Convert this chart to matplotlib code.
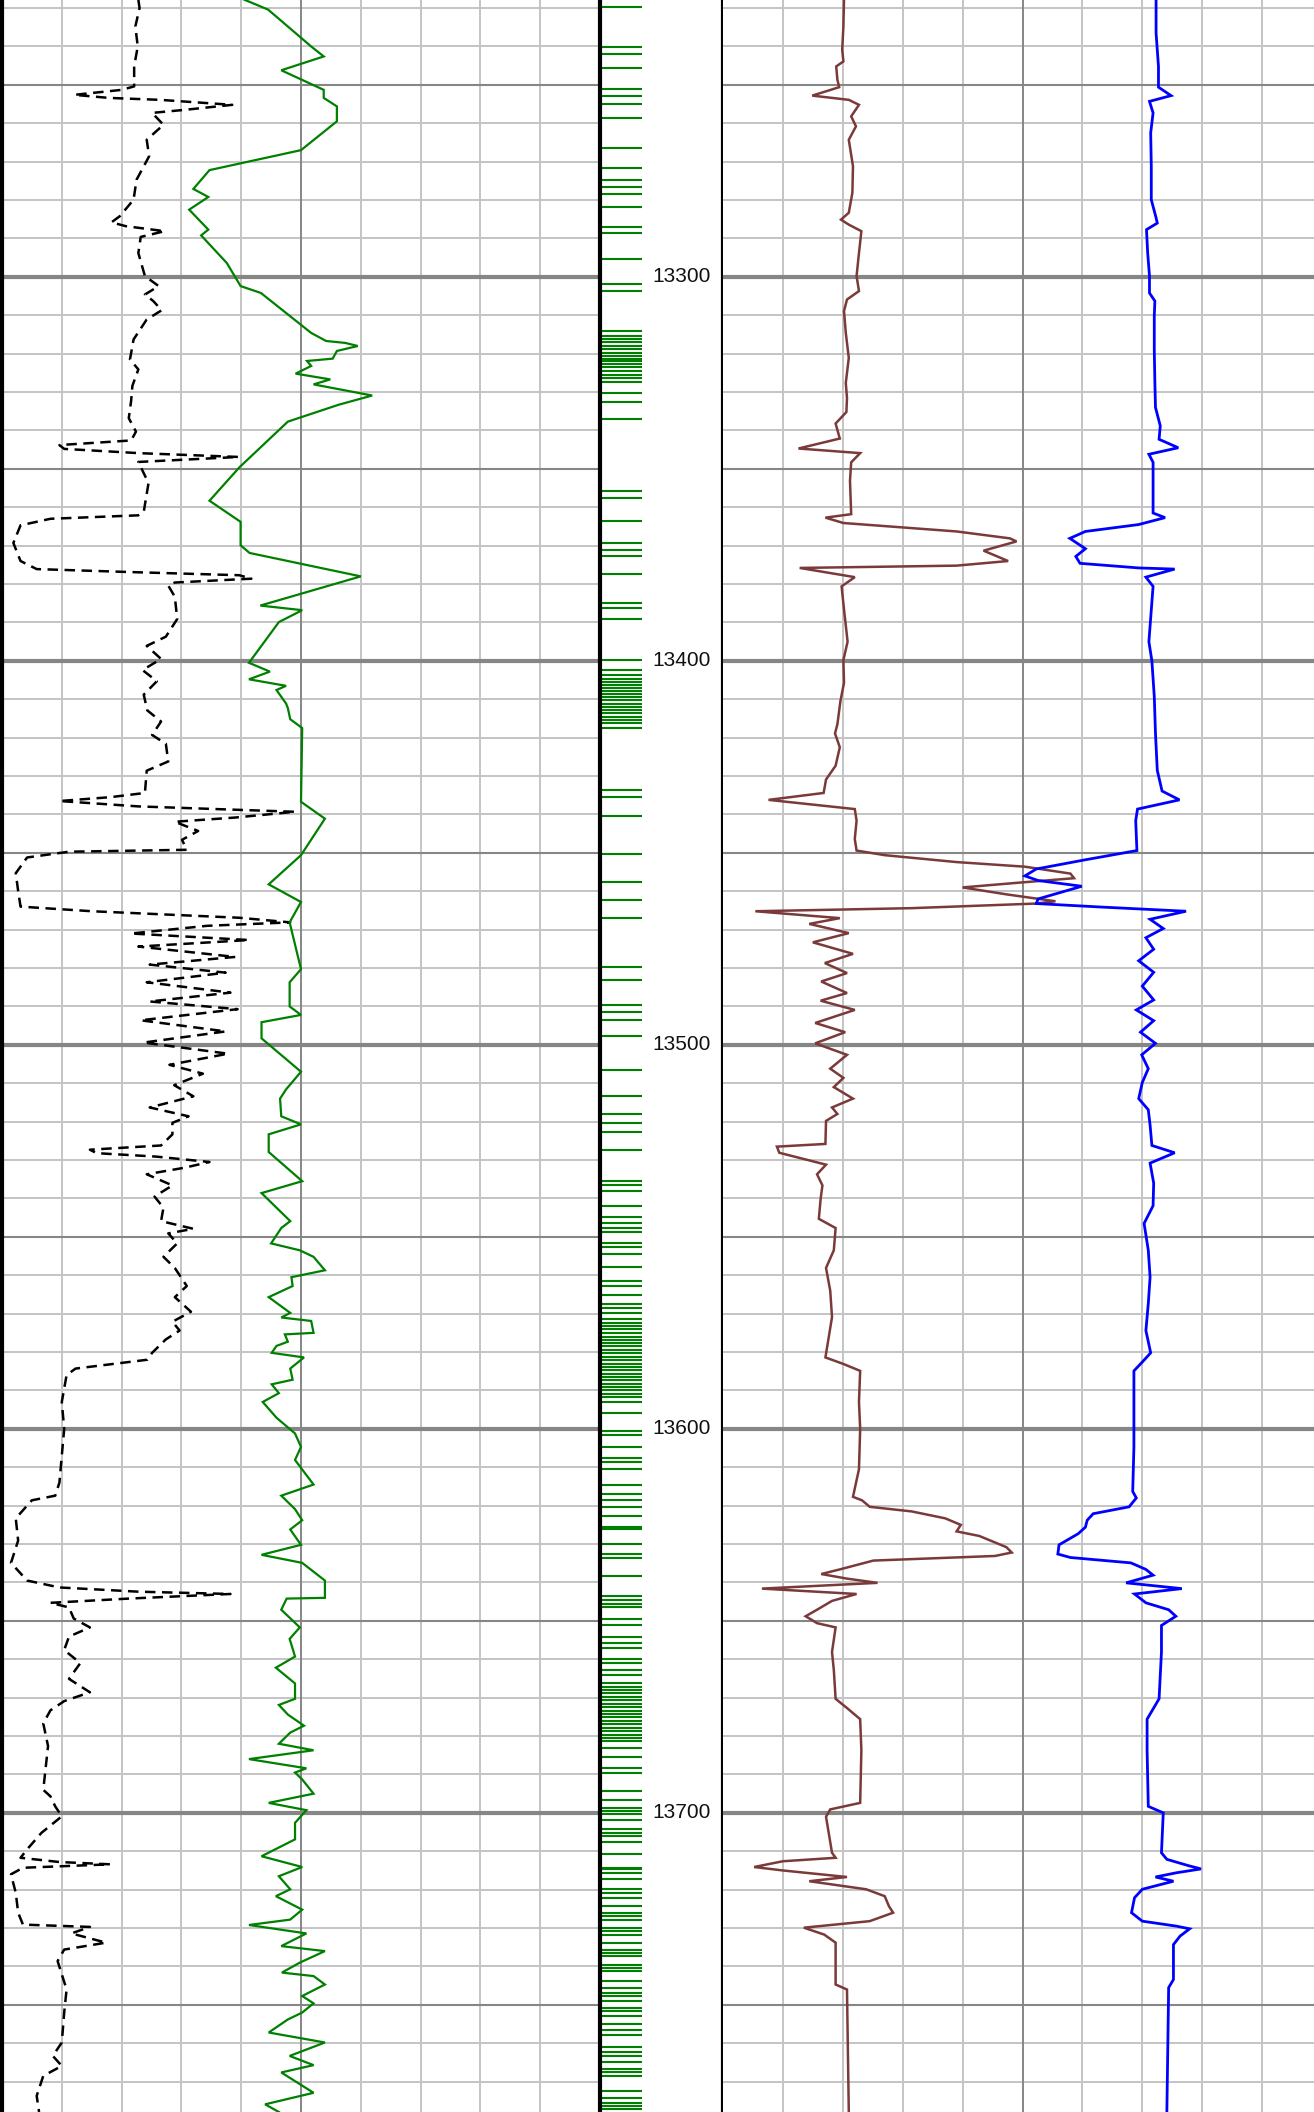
from __future__ import annotations

import matplotlib

matplotlib.use("Agg")
import matplotlib.pyplot as plt


FIG_W, FIG_H = 1314, 2112
TOP_DEPTH, BASE_DEPTH = 13227.9, 13777.9

PALETTE = {
    "grid": "#C4C4C4",
    "grid_dark": "#868686",
    "border": "#000000",
    "gr": "#008000",
    "sp": "#000000",
    "deep": "#7B3A3A",
    "shallow": "#0000FF",
    "ticks": "#008000",
    "text": "#111111",
}

# left track (0-100 track units): dashed black curve, depth / value
SP_LOG = [
    (13227.8, 22.8), (13230.0, 23.0), (13234.8, 22.3), (13240.0, 22.7), (13245.2, 22.1),
    (13250.4, 22.1), (13251.3, 20.0), (13252.6, 12.1), (13253.4, 17.9), (13253.9, 26.4),
    (13255.2, 38.5), (13256.5, 30.6), (13257.3, 25.1), (13260.4, 27.0), (13264.3, 24.2),
    (13268.6, 24.6), (13274.7, 22.5), (13279.9, 22.0), (13284.2, 19.7), (13285.8, 18.3),
    (13286.8, 20.7), (13288.1, 27.2), (13289.6, 23.2), (13293.8, 22.8), (13299.8, 23.9),
    (13302.4, 26.2), (13304.6, 23.9), (13306.3, 25.3), (13308.7, 26.7), (13311.1, 24.2),
    (13316.3, 22.0), (13321.5, 21.4), (13324.1, 22.8), (13328.4, 21.8), (13332.2, 21.6),
    (13336.8, 21.2), (13340.3, 22.4), (13342.6, 21.6), (13343.8, 9.6), (13344.8, 10.4),
    (13345.9, 22.8), (13346.9, 39.6), (13348.2, 22.8), (13353.7, 24.5), (13361.2, 23.7),
    (13362.1, 22.8), (13363.0, 8.1), (13364.7, 3.1), (13369.3, 1.9), (13374.0, 3.1),
    (13376.1, 5.8), (13376.9, 22.0), (13377.7, 39.7), (13378.6, 41.7), (13379.6, 28.9),
    (13380.4, 27.8), (13383.3, 28.9), (13389.1, 29.3), (13393.7, 27.4), (13396.1, 24.2),
    (13399.5, 26.6), (13402.4, 23.5), (13405.3, 25.9), (13408.8, 23.7), (13412.9, 24.3),
    (13415.8, 26.6), (13419.3, 25.1), (13421.6, 27.4), (13426.2, 27.8), (13428.6, 24.2),
    (13434.4, 23.9), (13435.5, 18.1), (13436.5, 9.6), (13437.9, 22.8), (13439.3, 49.0),
    (13440.8, 39.0), (13441.9, 28.9), (13444.3, 32.8), (13446.6, 30.1), (13449.2, 30.9),
    (13449.7, 11.2), (13451.2, 4.2), (13455.3, 2.3), (13459.9, 2.7), (13464.0, 3.1),
    (13465.2, 15.0), (13466.9, 39.7), (13468.1, 48.2), (13469.0, 34.3), (13471.0, 21.6),
    (13472.7, 41.3), (13474.4, 22.8), (13477.1, 39.0), (13479.1, 24.7), (13481.2, 37.4),
    (13483.7, 24.2), (13486.4, 38.2), (13488.7, 24.7), (13490.7, 39.4), (13493.6, 23.2),
    (13496.5, 37.4), (13499.4, 23.7), (13502.3, 37.8), (13505.2, 28.0), (13507.5, 33.6),
    (13510.5, 28.8), (13513.4, 32.0), (13516.3, 24.7), (13518.6, 31.2), (13520.3, 28.5),
    (13523.3, 28.5), (13526.2, 26.6), (13527.3, 14.7), (13528.2, 15.8), (13529.1, 25.8),
    (13530.5, 34.7), (13532.0, 30.5), (13533.7, 24.2), (13536.6, 28.5), (13539.5, 25.5),
    (13542.4, 27.0), (13545.9, 26.6), (13547.9, 32.0), (13549.1, 27.8), (13551.7, 29.3),
    (13555.2, 27.0), (13558.1, 28.9), (13562.8, 30.9), (13565.7, 28.9), (13569.5, 31.6),
    (13572.1, 28.5), (13574.4, 29.7), (13576.7, 27.4), (13580.2, 25.1), (13582.0, 24.3),
    (13584.3, 12.3), (13586.0, 10.8), (13593.0, 10.0), (13600.0, 10.4), (13607.0, 10.0),
    (13614.0, 9.6), (13617.4, 8.9), (13618.6, 5.0), (13623.3, 2.3), (13629.1, 2.7),
    (13634.9, 1.5), (13639.5, 4.2), (13641.3, 9.6), (13642.4, 22.8), (13643.0, 38.2),
    (13644.2, 21.2), (13645.3, 8.1), (13646.5, 11.2), (13649.4, 12.0), (13651.7, 14.7),
    (13654.1, 11.2), (13657.6, 10.4), (13661.0, 13.1), (13665.1, 11.2), (13668.6, 14.7),
    (13670.9, 10.4), (13673.3, 8.1), (13676.7, 6.9), (13682.6, 7.7), (13688.4, 7.3),
    (13694.0, 6.9), (13695.7, 8.1), (13698.3, 8.9), (13700.9, 10.0), (13705.2, 6.6),
    (13709.5, 4.2), (13711.7, 3.1), (13712.8, 9.6), (13713.4, 18.1), (13714.3, 3.5),
    (13716.0, 1.5), (13720.8, 2.3), (13726.0, 2.7), (13729.1, 3.5), (13729.7, 14.7),
    (13731.4, 11.6), (13733.8, 17.4), (13735.6, 10.4), (13738.6, 9.3), (13746.0, 10.8),
    (13752.0, 10.4), (13759.8, 10.0), (13763.3, 8.5), (13765.9, 10.0), (13768.5, 6.9),
    (13773.7, 5.8), (13777.9, 6.2),
]

# left track: green solid curve
GR_LOG = [
    (13227.8, 40.5), (13230.4, 44.5), (13240.0, 51.7), (13242.6, 53.8), (13246.2, 46.7),
    (13251.3, 53.8), (13253.4, 53.8), (13255.6, 56.0), (13259.5, 56.0), (13267.0, 50.0),
    (13272.2, 34.7), (13277.1, 32.0), (13279.2, 34.5), (13282.5, 31.3), (13287.7, 34.5),
    (13289.2, 33.3), (13296.4, 37.6), (13302.4, 39.9), (13304.2, 43.3), (13314.6, 51.7),
    (13316.7, 54.2), (13317.2, 57.4), (13318.0, 59.5), (13319.3, 56.0), (13321.3, 55.3),
    (13321.9, 51.0), (13323.2, 51.7), (13325.2, 49.1), (13326.7, 54.9), (13328.0, 52.1),
    (13330.9, 61.9), (13333.3, 56.3), (13337.7, 47.8), (13349.6, 39.7), (13358.3, 34.7),
    (13363.8, 39.9), (13369.9, 39.9), (13371.9, 41.4), (13378.0, 60.0), (13385.6, 43.2),
    (13386.8, 50.2), (13389.9, 46.3), (13400.5, 41.3), (13402.8, 44.8), (13404.8, 41.3),
    (13406.5, 47.5), (13407.6, 45.9), (13411.1, 47.5), (13412.3, 47.8), (13415.2, 48.2),
    (13417.5, 50.2), (13436.7, 50.0), (13441.1, 54.0), (13450.6, 50.0), (13458.2, 44.6),
    (13462.8, 50.0), (13468.1, 48.1), (13480.3, 50.0), (13483.7, 48.1), (13490.0, 48.1),
    (13492.2, 50.0), (13494.1, 43.4), (13498.3, 43.4), (13507.0, 50.0), (13511.6, 47.5),
    (13514.0, 46.5), (13518.6, 46.7), (13520.7, 50.0), (13523.3, 44.6), (13527.9, 44.6),
    (13535.5, 50.2), (13538.6, 43.4), (13545.9, 48.2), (13547.7, 46.7), (13551.7, 45.0),
    (13553.5, 49.8), (13555.2, 52.1), (13558.7, 54.0), (13560.5, 48.4), (13562.8, 48.6),
    (13565.7, 44.6), (13569.8, 48.2), (13571.0, 46.7), (13571.9, 51.7), (13575.0, 52.1),
    (13575.4, 47.3), (13577.3, 47.8), (13578.4, 45.9), (13580.2, 45.1), (13581.4, 50.5),
    (13584.3, 48.2), (13587.2, 48.6), (13588.4, 45.1), (13590.7, 46.3), (13593.0, 43.6),
    (13597.1, 45.9), (13601.2, 49.0), (13604.7, 50.0), (13608.1, 49.0), (13614.5, 52.1),
    (13617.4, 46.7), (13620.9, 49.0), (13623.8, 50.2), (13626.2, 48.2), (13630.2, 50.0),
    (13632.8, 43.4), (13634.9, 50.2), (13639.5, 54.0), (13644.0, 54.0), (13644.2, 47.6),
    (13647.1, 46.7), (13651.7, 49.8), (13654.7, 48.1), (13659.3, 49.0), (13662.2, 45.8),
    (13666.3, 49.0), (13670.3, 49.0), (13671.9, 46.3), (13674.4, 47.8), (13677.3, 50.5),
    (13679.1, 48.2), (13682.0, 46.3), (13683.7, 52.1), (13686.0, 41.3), (13688.4, 50.9),
    (13689.5, 49.0), (13691.3, 50.2), (13695.0, 52.1), (13697.4, 44.6), (13699.3, 50.9),
    (13702.6, 49.0), (13706.9, 49.0), (13711.3, 43.4), (13714.1, 50.2), (13716.5, 46.3),
    (13719.9, 48.2), (13721.7, 45.8), (13725.2, 50.2), (13727.8, 48.2), (13729.2, 41.3),
    (13731.4, 50.9), (13734.7, 46.7), (13736.0, 54.0), (13739.0, 49.8), (13741.6, 46.8),
    (13742.5, 52.1), (13744.7, 54.0), (13747.7, 50.2), (13749.6, 52.1), (13752.0, 50.2),
    (13753.8, 47.8), (13757.2, 44.6), (13759.8, 54.0), (13763.3, 48.1), (13765.7, 52.1),
    (13767.6, 46.7), (13772.9, 52.1), (13775.9, 44.0), (13777.9, 46.3),
]

# right track: brown curve
DEEP_LOG = [
    (13227.8, 20.2), (13234.8, 20.1), (13240.8, 19.9), (13243.9, 20.1), (13245.2, 18.9),
    (13248.7, 19.1), (13250.6, 19.4), (13252.8, 14.9), (13253.9, 21.0), (13255.2, 22.7),
    (13258.2, 21.4), (13260.8, 22.2), (13264.3, 21.0), (13271.2, 21.7), (13278.1, 21.6),
    (13283.3, 21.0), (13285.1, 19.7), (13286.4, 21.0), (13288.1, 23.1), (13293.8, 22.7),
    (13299.8, 22.3), (13303.7, 22.7), (13305.9, 20.7), (13308.9, 20.2), (13314.6, 20.5),
    (13321.1, 21.0), (13327.6, 20.5), (13331.6, 20.7), (13335.2, 20.6), (13338.2, 18.8),
    (13342.1, 19.5), (13344.7, 12.6), (13345.9, 22.9), (13348.3, 21.4), (13353.1, 21.2),
    (13361.8, 21.4), (13362.7, 17.1), (13364.1, 20.1), (13366.3, 39.0), (13368.1, 47.9),
    (13368.9, 49.0), (13371.3, 43.5), (13374.0, 47.6), (13375.2, 39.0), (13375.8, 12.8),
    (13378.2, 22.0), (13380.6, 19.8), (13386.6, 20.2), (13395.0, 20.8), (13399.8, 20.1),
    (13405.7, 20.2), (13410.5, 19.6), (13416.5, 19.1), (13418.9, 18.7), (13422.5, 19.5),
    (13427.3, 18.8), (13430.9, 17.2), (13434.4, 16.8), (13436.2, 7.6), (13438.6, 22.0),
    (13441.6, 22.3), (13446.4, 22.0), (13449.4, 22.3), (13450.6, 27.0), (13452.4, 39.0),
    (13453.6, 50.4), (13455.4, 58.0), (13456.6, 58.6), (13457.8, 49.1), (13459.0, 40.0),
    (13460.8, 47.3), (13462.6, 55.5), (13463.2, 52.3), (13464.4, 31.5), (13465.2, 5.4),
    (13467.0, 19.5), (13468.5, 14.4), (13470.9, 21.0), (13473.3, 15.0), (13476.3, 21.7),
    (13478.7, 17.0), (13481.3, 20.7), (13483.5, 16.4), (13486.5, 20.7), (13488.5, 16.3),
    (13490.9, 22.0), (13494.3, 15.4), (13496.7, 20.4), (13499.6, 15.4), (13502.6, 20.7),
    (13506.2, 17.9), (13508.6, 20.1), (13511.0, 18.5), (13514.0, 21.7), (13516.3, 18.2),
    (13518.0, 19.1), (13519.8, 17.2), (13525.8, 17.1), (13526.5, 9.0), (13528.1, 9.4),
    (13531.2, 17.2), (13533.7, 15.7), (13536.6, 16.6), (13540.1, 16.3), (13545.3, 16.0),
    (13547.7, 18.8), (13553.5, 18.5), (13558.1, 17.2), (13564.0, 17.9), (13570.9, 18.2),
    (13576.7, 17.6), (13581.4, 17.1), (13583.1, 20.1), (13584.9, 22.9), (13593.0, 22.7),
    (13600.0, 22.9), (13610.5, 22.7), (13617.7, 21.7), (13618.6, 23.2), (13620.3, 24.5),
    (13621.5, 31.5), (13623.3, 37.1), (13625.0, 39.7), (13626.7, 39.0), (13627.9, 42.8),
    (13630.8, 47.3), (13632.2, 48.2), (13633.1, 45.4), (13634.3, 25.1), (13636.6, 19.5),
    (13637.8, 16.4), (13639.0, 20.7), (13640.1, 25.8), (13641.6, 6.5), (13643.0, 22.3),
    (13644.8, 18.2), (13647.1, 15.7), (13648.8, 13.8), (13650.6, 15.7), (13651.7, 18.8),
    (13658.1, 18.2), (13662.8, 18.5), (13670.3, 18.8), (13672.7, 20.7), (13675.6, 22.9),
    (13683.7, 23.1), (13697.4, 22.9), (13699.1, 17.9), (13701.0, 17.2), (13710.4, 18.2),
    (13711.7, 18.8), (13712.6, 10.0), (13714.1, 5.2), (13715.0, 10.0), (13716.7, 20.7),
    (13717.8, 14.4), (13719.9, 23.9), (13721.7, 27.0), (13724.3, 27.7), (13726.0, 28.4),
    (13728.2, 24.5), (13729.9, 13.5), (13731.7, 16.9), (13733.8, 18.8), (13744.7, 18.8),
    (13746.0, 20.7), (13777.9, 21.0),
]

# right track: blue curve
SHALLOW_LOG = [
    (13227.8, 72.3), (13236.5, 72.3), (13245.2, 72.7), (13250.6, 72.7), (13252.8, 74.8),
    (13254.3, 71.2), (13257.3, 71.8), (13262.5, 71.4), (13271.2, 71.5), (13279.9, 71.5),
    (13284.6, 72.3), (13286.0, 72.5), (13287.7, 70.7), (13293.8, 70.9), (13299.8, 71.2),
    (13304.2, 71.2), (13306.3, 72.1), (13310.2, 72.0), (13318.9, 72.0), (13327.6, 72.1),
    (13334.0, 72.2), (13338.8, 73.0), (13342.3, 72.8), (13344.5, 76.0), (13346.2, 71.1),
    (13348.3, 71.8), (13361.5, 71.8), (13362.7, 73.8), (13364.5, 69.4), (13366.3, 60.5),
    (13368.1, 57.9), (13370.8, 60.5), (13372.8, 58.9), (13374.6, 59.6), (13375.8, 69.4),
    (13376.1, 75.4), (13378.2, 70.6), (13380.6, 71.8), (13389.0, 71.4), (13395.0, 71.1),
    (13400.0, 71.6), (13409.3, 72.0), (13418.9, 72.2), (13428.5, 72.5), (13433.9, 73.3),
    (13436.2, 76.2), (13438.6, 69.2), (13441.6, 68.9), (13449.4, 69.1), (13451.8, 60.5),
    (13454.2, 52.3), (13456.0, 50.4), (13457.2, 52.6), (13458.7, 59.9), (13462.0, 52.6),
    (13463.2, 52.3), (13464.1, 63.0), (13465.2, 77.3), (13467.3, 71.3), (13469.7, 73.5),
    (13472.1, 70.6), (13475.1, 71.9), (13478.1, 69.4), (13481.1, 71.9), (13484.7, 70.0),
    (13488.3, 71.9), (13490.9, 69.0), (13493.7, 71.9), (13496.7, 69.7), (13499.6, 72.2),
    (13502.6, 69.9), (13506.2, 71.0), (13509.8, 70.0), (13514.0, 69.4), (13516.9, 71.0),
    (13520.9, 71.3), (13526.2, 71.6), (13528.1, 75.4), (13530.8, 71.3), (13536.0, 71.9),
    (13541.9, 71.8), (13546.5, 70.3), (13553.5, 71.0), (13560.5, 71.3), (13567.4, 71.0),
    (13574.4, 70.6), (13580.2, 71.4), (13582.6, 70.0), (13584.9, 68.6), (13593.0, 68.6),
    (13604.7, 68.6), (13616.3, 68.4), (13618.0, 69.0), (13620.3, 67.8), (13622.1, 61.8),
    (13623.8, 60.8), (13625.6, 60.5), (13627.3, 59.3), (13630.2, 56.1), (13632.6, 55.9),
    (13633.5, 58.0), (13634.9, 68.1), (13636.6, 70.6), (13638.1, 71.8), (13640.1, 67.3),
    (13641.6, 76.6), (13643.0, 68.7), (13645.3, 70.6), (13647.1, 74.4), (13648.8, 75.6),
    (13651.2, 73.2), (13658.1, 73.2), (13670.3, 72.8), (13672.7, 71.9), (13675.6, 70.8),
    (13683.7, 70.8), (13698.3, 71.0), (13700.0, 73.5), (13710.4, 73.2), (13712.1, 74.1),
    (13713.7, 77.6), (13714.6, 79.8), (13715.6, 75.7), (13716.7, 72.2), (13717.8, 75.2),
    (13719.9, 70.0), (13722.1, 68.7), (13726.0, 68.2), (13728.2, 70.0), (13729.5, 75.7),
    (13730.2, 77.9), (13732.1, 76.3), (13734.3, 75.2), (13743.4, 75.2), (13745.5, 74.4),
    (13777.9, 74.1),
]

# depth track: green flag marks
FLAG_DEPTHS = [
    13229.7, 13240.1, 13241.9, 13245.5, 13251.0, 13252.8, 13254.9, 13258.7, 13266.4, 13271.6,
    13274.8, 13276.6, 13278.4, 13281.9, 13287.0, 13288.6, 13295.3, 13301.8, 13303.7,
    13314.0, 13315.5, 13316.3, 13317.0, 13318.0, 13318.8, 13319.7, 13320.5, 13321.3, 13322.0,
    13322.8, 13323.6, 13324.5, 13325.5, 13326.4, 13327.4, 13330.2, 13332.5, 13336.9,
    13355.7, 13357.5, 13363.5, 13369.3, 13371.1, 13372.8, 13377.5, 13385.0, 13386.2, 13389.1,
    13399.8, 13402.4, 13403.8, 13404.6, 13405.4, 13406.2, 13407.0, 13407.9, 13408.7, 13409.5,
    13410.3, 13411.2, 13412.0, 13412.8, 13413.7, 13414.5, 13415.3, 13416.2, 13417.4,
    13433.6, 13435.5, 13440.4, 13450.3, 13457.5, 13462.2, 13467.0, 13479.8, 13483.2, 13489.5,
    13491.4, 13493.5, 13497.6, 13506.6, 13513.3, 13518.0, 13520.3, 13522.7, 13527.3, 13535.5,
    13536.5, 13538.0, 13541.9, 13544.8, 13546.5, 13547.7, 13548.8, 13551.7, 13552.6, 13554.4,
    13557.9, 13561.6, 13562.8, 13565.1, 13567.4, 13568.6, 13569.8,
    13571.5, 13572.4, 13573.3, 13574.1, 13575.0, 13576.0, 13576.8, 13577.6, 13578.5, 13579.5,
    13580.3, 13581.2, 13582.0, 13583.0, 13583.8, 13584.7, 13585.6, 13586.5, 13587.3, 13588.2,
    13589.1, 13590.0, 13591.0, 13591.8, 13593.0, 13595.9, 13600.6, 13601.7, 13604.7, 13607.6,
    13608.7, 13610.5, 13614.5, 13616.9, 13618.6, 13620.3, 13622.7, 13625.6, 13626.2, 13630.0,
    13632.6, 13633.7, 13638.4, 13643.6, 13644.5, 13645.5, 13646.5, 13649.4, 13651.2, 13654.1,
    13655.8, 13657.0, 13659.9, 13661.0, 13662.8, 13664.0,
    13666.3, 13667.2, 13668.0, 13668.9, 13669.8, 13670.7, 13671.6, 13672.5, 13673.4, 13674.2,
    13675.1, 13676.0, 13676.9, 13677.8, 13678.7, 13679.6, 13680.5, 13681.4, 13683.1, 13685.5,
    13688.4, 13689.5, 13694.4, 13696.7, 13698.7, 13699.6, 13700.4, 13701.9, 13704.3, 13705.2,
    13706.1, 13707.6, 13710.8, 13714.3, 13714.7, 13715.6, 13717.3, 13719.9, 13720.8, 13722.1,
    13724.3, 13726.0, 13726.9, 13727.8, 13729.9, 13730.8, 13731.7, 13733.8, 13735.6, 13736.4,
    13737.3, 13739.5, 13740.3, 13741.2, 13743.8, 13745.5, 13746.8, 13747.7, 13749.0, 13750.7,
    13751.6, 13752.9, 13755.1, 13756.5, 13757.9, 13761.1, 13762.4, 13763.3, 13765.0, 13766.8,
    13767.6, 13768.5, 13772.4, 13774.2, 13775.5, 13776.3, 13777.2,
]

DEPTH_LABELS = [13300, 13400, 13500, 13600, 13700]


def configure() -> None:
    plt.rcParams.update(
        {
            "figure.facecolor": "white",
            "axes.facecolor": "white",
            "savefig.facecolor": "white",
            "font.family": ["Liberation Sans", "DejaVu Sans"],
        }
    )


def px_axes(fig: plt.Figure, x0: float, x1: float) -> plt.Axes:
    ax = fig.add_axes([x0 / FIG_W, 0.0, (x1 - x0) / FIG_W, 1.0])
    ax.set_ylim(BASE_DEPTH, TOP_DEPTH)
    ax.set_xticks([])
    ax.set_yticks([])
    for side in ("top", "bottom", "left", "right"):
        ax.spines[side].set_visible(False)
    return ax


def draw_grid(ax: plt.Axes) -> None:
    ax.set_xlim(0, 100)
    for x in range(10, 100, 10):
        if x == 50:
            ax.axvline(x, color=PALETTE["grid_dark"], lw=1.4, zorder=0.6)
        else:
            ax.axvline(x, color=PALETTE["grid"], lw=1.4, zorder=0.5)
    for d in range(13230, 13780, 10):
        if d % 100 == 0:
            ax.axhline(d, color=PALETTE["grid_dark"], lw=3.0, zorder=0.7)
        elif d % 50 == 0:
            ax.axhline(d, color=PALETTE["grid_dark"], lw=1.5, zorder=0.6)
        else:
            ax.axhline(d, color=PALETTE["grid"], lw=1.4, zorder=0.5)


def curve(ax: plt.Axes, log: list, **kw) -> None:
    depth, value = zip(*log)
    ax.plot(value, depth, solid_joinstyle="miter", **kw)


def main() -> None:
    configure()
    fig = plt.figure(figsize=(FIG_W / 100, FIG_H / 100), dpi=100)

    left = px_axes(fig, 2, 600)
    draw_grid(left)
    left.spines["left"].set_visible(True)
    left.spines["left"].set_linewidth(3.0)
    left.spines["left"].set_color(PALETTE["border"])
    curve(left, SP_LOG, color=PALETTE["sp"], lw=1.8, linestyle=(0, (4.2, 2.6)), zorder=3)
    curve(left, GR_LOG, color=PALETTE["gr"], lw=1.6, zorder=3)

    mid = px_axes(fig, 600, 723)
    mid.set_xlim(0, 1)
    for side in ("left", "right"):
        mid.spines[side].set_visible(True)
        mid.spines[side].set_linewidth(3.0)
        mid.spines[side].set_color(PALETTE["border"])
    mid.hlines(FLAG_DEPTHS, 0.0, 0.341, color=PALETTE["ticks"], lw=1.5, zorder=2)
    for d in DEPTH_LABELS:
        mid.text(0.66, d, str(d), fontsize=15, ha="center", va="center", color=PALETTE["text"])

    right = px_axes(fig, 723, 1322)
    draw_grid(right)
    curve(right, DEEP_LOG, color=PALETTE["deep"], lw=1.8, zorder=3)
    curve(right, SHALLOW_LOG, color=PALETTE["shallow"], lw=2.0, zorder=3)

    fig.savefig("out.png", dpi=100)
    plt.close(fig)


if __name__ == "__main__":
    main()
